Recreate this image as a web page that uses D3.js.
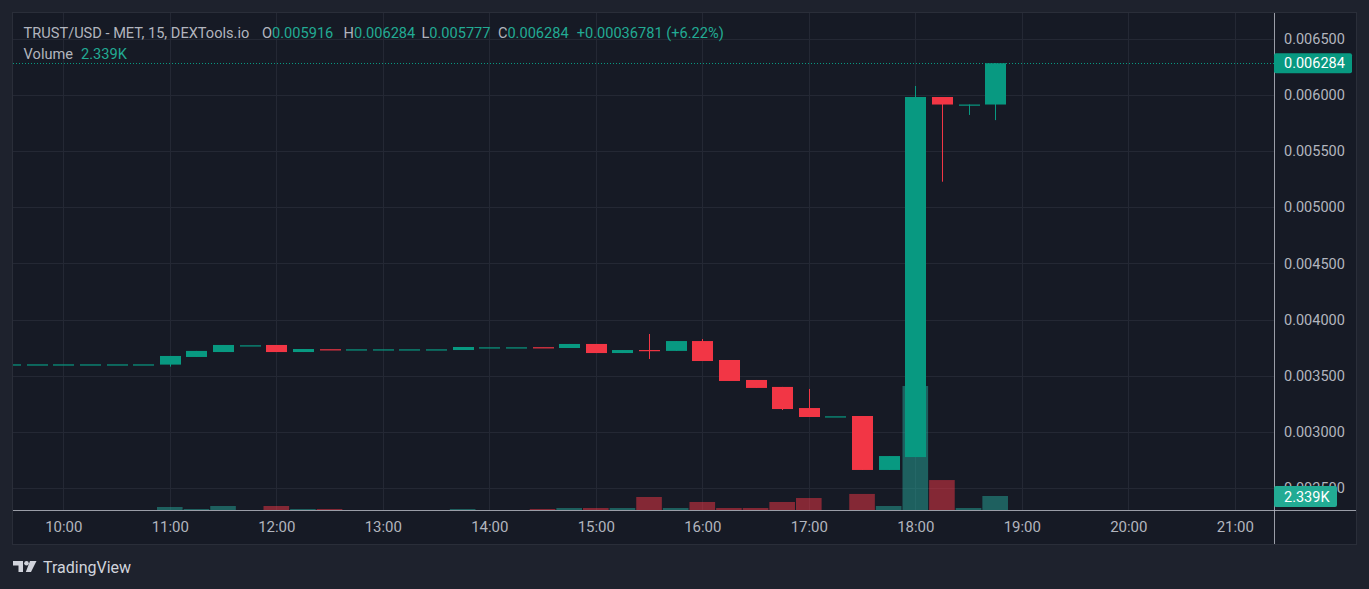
<!DOCTYPE html>
<html>
<head>
<meta charset="utf-8">
<script src="https://cdn.jsdelivr.net/npm/d3@7"></script>
<style>
  html, body { margin: 0; padding: 0; background: #1e222d; }
  svg { display: block; }
  text { font-family: Roboto, "Noto Sans", sans-serif; }
</style>
</head>
<body>
<svg id="chart" width="1369" height="589"></svg>
<script>
// ---------- DATA ----------
const times = ["09:30","09:45","10:00","10:15","10:30","10:45","11:00","11:15","11:30","11:45",
  "12:00","12:15","12:30","12:45","13:00","13:15","13:30","13:45","14:00","14:15",
  "14:30","14:45","15:00","15:15","15:30","15:45","16:00","16:15","16:30","16:45",
  "17:00","17:15","17:30","17:45","18:00","18:15","18:30","18:45"];

const open = [0.003600,0.003600,0.003600,0.003600,0.003600,0.003600,0.003598,0.003666,0.003710,0.003770,
  0.003773,0.003710,0.003735,0.003734,0.003734,0.003734,0.003734,0.003728,0.003752,0.003752,
  0.003753,0.003746,0.003782,0.003701,0.003728,0.003720,0.003808,0.003639,0.003461,0.003399,
  0.003211,0.003137,0.003140,0.002659,0.002774,0.005983,0.005916,0.005916];

const high = [0.003600,0.003600,0.003600,0.003600,0.003600,0.003600,0.003675,0.003720,0.003773,0.003770,
  0.003773,0.003737,0.003735,0.003734,0.003734,0.003734,0.003734,0.003755,0.003752,0.003752,
  0.003753,0.003782,0.003782,0.003728,0.003871,0.003808,0.003826,0.003639,0.003461,0.003399,
  0.003381,0.003137,0.003140,0.002783,0.006081,0.005983,0.005916,0.006284];

const low = [0.003600,0.003600,0.003600,0.003600,0.003600,0.003600,0.003580,0.003666,0.003710,0.003770,
  0.003710,0.003710,0.003734,0.003734,0.003734,0.003734,0.003734,0.003728,0.003752,0.003752,
  0.003752,0.003746,0.003701,0.003701,0.003648,0.003720,0.003630,0.003452,0.003390,0.003193,
  0.003131,0.003137,0.002659,0.002659,0.002774,0.005228,0.005823,0.005777];

const close = [0.003600,0.003600,0.003600,0.003600,0.003600,0.003600,0.003675,0.003720,0.003773,0.003770,
  0.003710,0.003737,0.003734,0.003734,0.003734,0.003734,0.003734,0.003755,0.003752,0.003752,
  0.003752,0.003782,0.003701,0.003728,0.003725,0.003808,0.003630,0.003452,0.003390,0.003202,
  0.003131,0.003137,0.002659,0.002783,0.005983,0.005916,0.005916,0.006284];

const volume = [0,0,0,0,0,0,500,170,670,0,
  670,170,170,0,0,0,0,170,0,0,
  170,330,330,330,2170,330,1340,330,330,1340,
  2000,0,2680,670,20700,5000,330,2339];

const priceTicks = [0.0025,0.0030,0.0035,0.0040,0.0045,0.0050,0.0055,0.0060,0.0065];
const timeTicks = ["10:00","11:00","12:00","13:00","14:00","15:00","16:00","17:00","18:00","19:00","20:00","21:00"];

const legendTitle = "TRUST/USD - MET, 15, DEXTools.io";
const legendChange = "+0.00036781 (+6.22%)";
const lastPrice = 0.006284;
const lastVolume = 2339;

// ---------- LAYOUT ----------
const W = 1369, H = 589;
const frame = {l: 13, t: 13, r: 1356, b: 544};
const pane = {l: 13, t: 13, r: 1274, b: 510};
const GREEN = "#089981", RED = "#f23645";
const VGREEN = "rgba(38,166,154,0.5)", VRED = "rgba(242,54,69,0.5)";
const TXT = "#b2b5be", GRID = "#242834";

const parse = d3.timeParse("%H:%M");
const x = d3.scaleTime().domain([parse("10:00"), parse("21:00")]).range([63.3, 1234.8]);
const y = d3.scaleLinear().domain([0.0025, 0.0065]).range([487.8, 39]);
const vy = d3.scaleLinear().domain([0, 20700]).range([pane.b, 386]);

const step = x(parse("10:15")) - x(parse("10:00"));
const bodyW = 21;
const volW = step - 1;

const data = times.map((t, i) => ({
  t: parse(t), o: open[i], h: high[i], l: low[i], c: close[i], v: volume[i]
}));

const svg = d3.select("#chart");

// outer background
svg.append("rect").attr("width", W).attr("height", H).attr("fill", "#1e222d");
svg.append("rect")
  .attr("x", frame.l - 0.5).attr("y", frame.t - 0.5)
  .attr("width", frame.r - frame.l + 1).attr("height", frame.b - frame.t + 1)
  .attr("fill", "#161a25").attr("stroke", "#2a2e39").attr("stroke-width", 1);

svg.append("defs").append("clipPath").attr("id", "paneClip")
  .append("rect").attr("x", pane.l).attr("y", pane.t)
  .attr("width", pane.r - pane.l).attr("height", pane.b - pane.t);

const g = svg.append("g").attr("clip-path", "url(#paneClip)");

// grid
g.append("g").selectAll("line").data(priceTicks).join("line")
  .attr("x1", pane.l).attr("x2", pane.r)
  .attr("y1", d => Math.round(y(d)) + 0.5).attr("y2", d => Math.round(y(d)) + 0.5)
  .attr("stroke", GRID).attr("stroke-width", 1);
g.append("g").selectAll("line").data(timeTicks).join("line")
  .attr("y1", pane.t).attr("y2", pane.b)
  .attr("x1", d => Math.round(x(parse(d))) + 0.5).attr("x2", d => Math.round(x(parse(d))) + 0.5)
  .attr("stroke", GRID).attr("stroke-width", 1);

// volume bars
g.append("g").selectAll("rect").data(data.filter(d => d.v > 0)).join("rect")
  .attr("x", d => x(d.t) - volW / 2)
  .attr("width", volW)
  .attr("y", d => vy(d.v))
  .attr("height", d => pane.b - vy(d.v))
  .attr("fill", d => d.c >= d.o ? VGREEN : VRED);

// wicks
g.append("g").selectAll("line").data(data).join("line")
  .attr("x1", d => Math.round(x(d.t)) + 0.5).attr("x2", d => Math.round(x(d.t)) + 0.5)
  .attr("y1", d => y(d.h)).attr("y2", d => y(d.l))
  .attr("stroke", d => d.c >= d.o ? GREEN : RED).attr("stroke-width", 1);

// bodies
g.append("g").selectAll("rect").data(data).join("rect")
  .attr("x", d => Math.round(x(d.t)) + 0.5 - bodyW / 2)
  .attr("width", bodyW)
  .attr("y", d => Math.min(y(d.o), y(d.c)))
  .attr("height", d => Math.max(1.2, Math.abs(y(d.o) - y(d.c))))
  .attr("fill", d => d.c >= d.o ? GREEN : RED);

// last price dotted line
g.append("line")
  .attr("x1", pane.l).attr("x2", pane.r)
  .attr("y1", Math.round(y(lastPrice)) + 0.5).attr("y2", Math.round(y(lastPrice)) + 0.5)
  .attr("stroke", GREEN).attr("stroke-width", 1).attr("stroke-dasharray", "1,2");

// axes borders
svg.append("line").attr("x1", frame.l).attr("x2", frame.r)
  .attr("y1", pane.b + 0.5).attr("y2", pane.b + 0.5)
  .attr("stroke", "#b2b5be").attr("stroke-width", 1).attr("opacity", 0.85);
svg.append("line").attr("x1", pane.r + 0.5).attr("x2", pane.r + 0.5)
  .attr("y1", frame.t).attr("y2", frame.b)
  .attr("stroke", "#b2b5be").attr("stroke-width", 1).attr("opacity", 0.85);

// price axis labels
const yAxis = d3.axisRight(y).tickValues(priceTicks).tickSize(0).tickPadding(0)
  .tickFormat(d3.format(".6f"));
const ya = svg.append("g").attr("transform", `translate(${pane.r + 10},0)`).call(yAxis);
ya.select(".domain").remove();
ya.selectAll("text").attr("fill", TXT).attr("font-size", "14.5px")
  .attr("font-family", "Roboto, sans-serif").attr("text-anchor", "start");

// time axis labels
const xAxis = d3.axisBottom(x).tickValues(timeTicks.map(parse)).tickSize(0).tickPadding(0)
  .tickFormat(d3.timeFormat("%H:%M"));
const xa = svg.append("g").attr("transform", `translate(0,${pane.b + 11})`).call(xAxis);
xa.select(".domain").remove();
xa.selectAll("text").attr("fill", TXT).attr("font-size", "15px")
  .attr("font-family", "Roboto, sans-serif");

// last price label
const lpY = y(lastPrice);
svg.append("rect").attr("x", pane.r).attr("y", lpY - 10).attr("width", 78).attr("height", 20)
  .attr("rx", 2).attr("fill", GREEN);
svg.append("text").attr("x", pane.r + 10).attr("y", lpY).attr("dy", "0.35em")
  .attr("fill", "#ffffff").attr("font-size", "14.5px").text(d3.format(".6f")(lastPrice));

// last volume label
const lvY = vy(lastVolume);
svg.append("rect").attr("x", pane.r).attr("y", lvY - 10).attr("width", 63).attr("height", 21)
  .attr("rx", 2).attr("fill", "#22ab94");
svg.append("text").attr("x", pane.r + 10).attr("y", lvY + 0.5).attr("dy", "0.35em")
  .attr("fill", "#ffffff").attr("font-size", "14.5px")
  .text(d3.format(".4s")(lastVolume).toUpperCase());

// legend
const last = data[data.length - 1];
const f6 = d3.format(".6f");
const leg = svg.append("g").attr("font-size", "14.6px");
leg.append("text").attr("x", 23.6).attr("y", 38).attr("fill", TXT).text(legendTitle);
const ohlc = [["O", last.o, 262], ["H", last.h, 343.6], ["L", last.l, 421.4], ["C", last.c, 497.9]];
ohlc.forEach(([k, v, px]) => {
  const t = leg.append("text").attr("x", px).attr("y", 38);
  t.append("tspan").attr("fill", TXT).text(k);
  t.append("tspan").attr("fill", "#22ab94").text(f6(v));
});
leg.append("text").attr("x", 576.7).attr("y", 38).attr("fill", "#22ab94").text(legendChange);
const vt = leg.append("text").attr("x", 23.6).attr("y", 59);
vt.append("tspan").attr("fill", TXT).text("Volume");
vt.append("tspan").attr("fill", "#22ab94").attr("dx", 8).text(d3.format(".4s")(lastVolume).toUpperCase());

// TradingView logo
const logo = svg.append("g").attr("fill", "#d1d4dc");
logo.append("path").attr("d", "M13,561 H23 V572 H18.5 V565.5 H13 Z");
logo.append("circle").attr("cx", 26.5).attr("cy", 563.3).attr("r", 2.3);
logo.append("path").attr("d", "M30,561 H36.5 L31,572 H25.8 Z");
svg.append("text").attr("x", 43).attr("y", 572.5).attr("fill", "#d1d4dc")
  .attr("font-size", "16px").attr("font-weight", 400).text("TradingView");
</script>
</body>
</html>
